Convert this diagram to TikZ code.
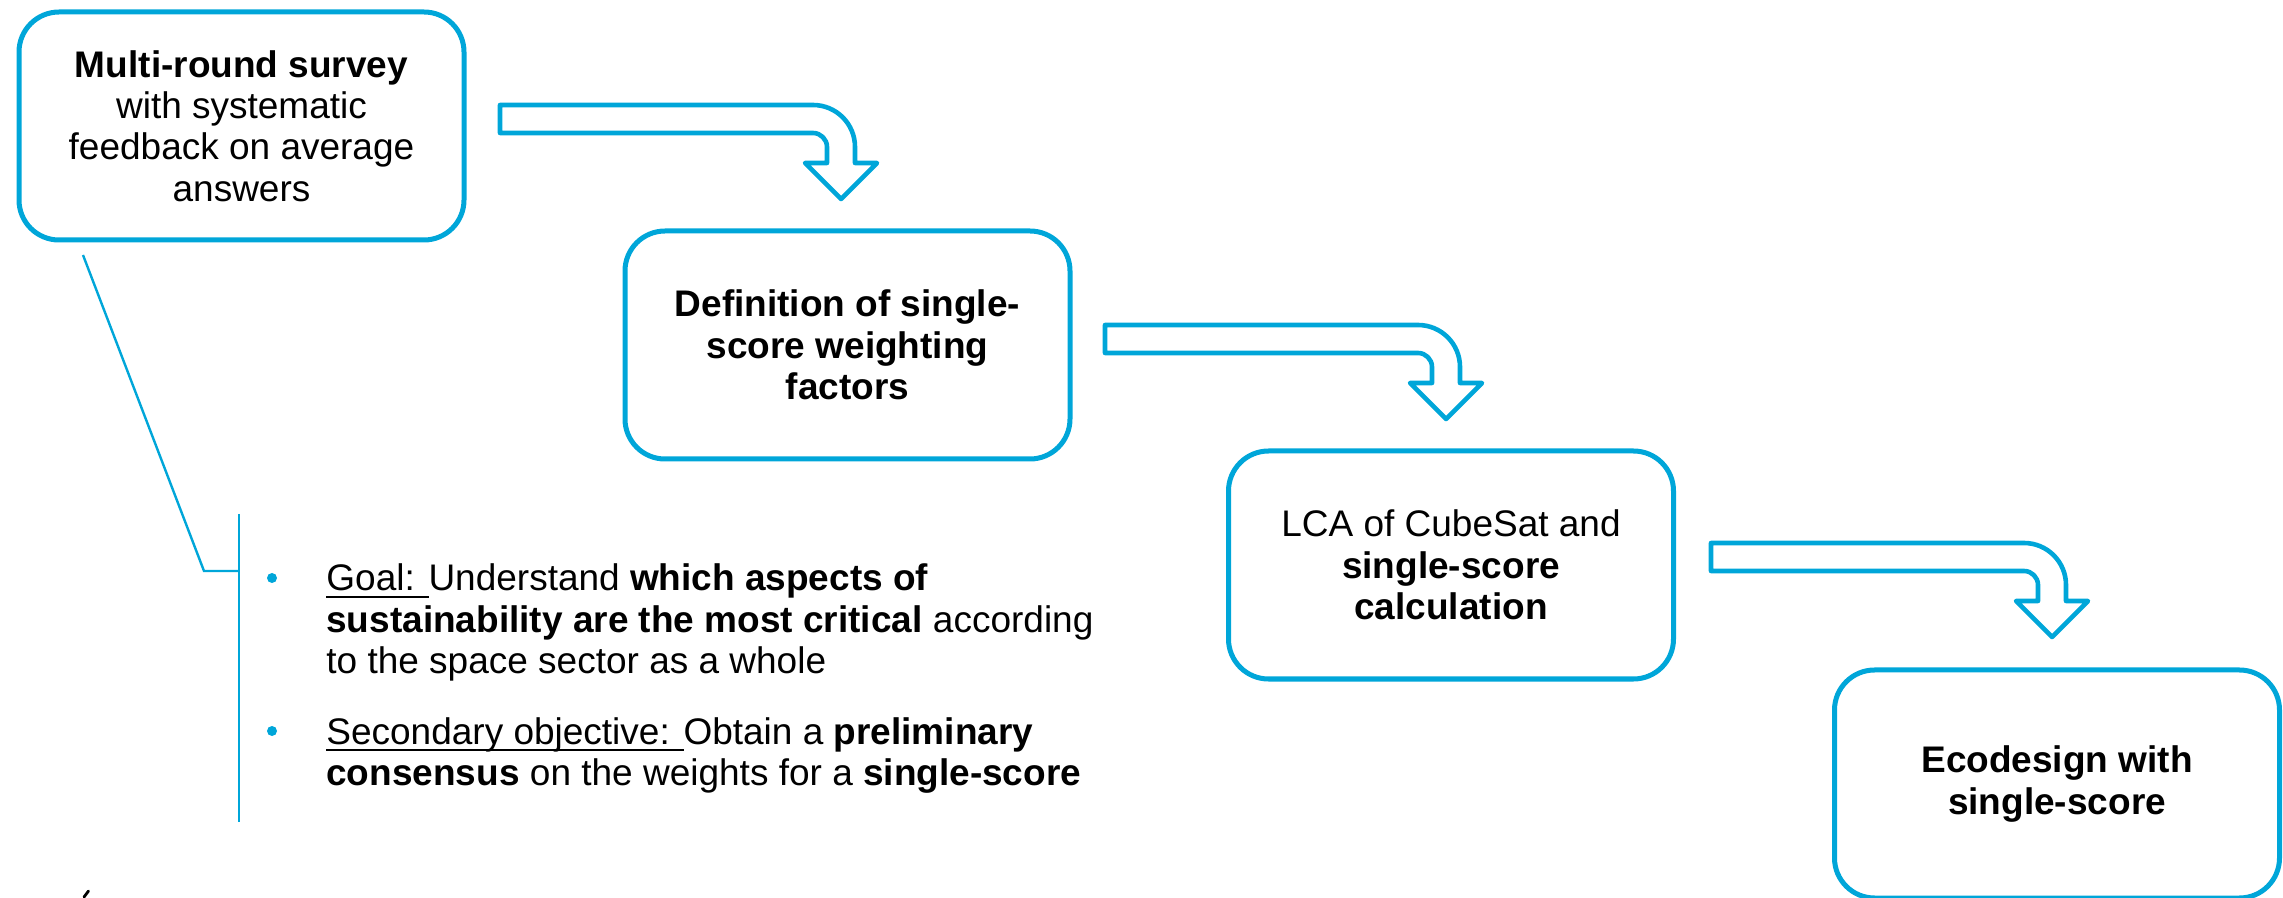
\documentclass[tikz,border=0pt]{standalone}
\usepackage{fontspec}
\setmainfont{Liberation Sans}
\definecolor{accent}{HTML}{00A6D9}
% underline with a fixed offset and thickness
\newcommand\myul[1]{\setbox0\hbox{#1}\rlap{\rule[-3.4pt]{\wd0}{1pt}}\box0}
% bent block arrow: #1 = left end of bar, #2 = top of bar, #3 = x of the tip
\newcommand\bentarrow[3]{%
  \draw[arrowline] (#1,#2) -- ({#3-28},#2)
    .. controls ({#3-28+23.2},#2) and ({#3+14},{#2+42-23.2}) .. ({#3+14},{#2+42})
    -- ({#3+14},{#2+58}) -- ({#3+36},{#2+58}) -- (#3,{#2+94})
    -- ({#3-36},{#2+58}) -- ({#3-14},{#2+58}) -- ({#3-14},{#2+42})
    .. controls ({#3-14},{#2+42-7.7}) and ({#3-28+7.7},{#2+28}) .. ({#3-28},{#2+28})
    -- (#1,{#2+28}) -- cycle;}
\begin{document}
\begin{tikzpicture}[x=0.5pt,y=-0.5pt,
  stage/.style={draw=accent, line width=2.5pt, rounded corners=20pt,
    minimum width=222.5pt, minimum height=114pt, inner sep=0pt,
    align=center, font=\fontsize{18.5}{20.7}\selectfont},
  arrowline/.style={draw=accent, line width=2.3pt, line join=round},
  callout/.style={draw=accent, line width=1.2pt},
  item/.style={anchor=base west, inner sep=0pt, font=\fontsize{18.5}{20.7}\selectfont},
  dot/.style={circle, fill=accent, minimum size=5pt, inner sep=0pt}]
\useasboundingbox (0,0) rectangle (2283,898);

% process stages
\node[stage] (survey) at (241.5,126) {\textbf{Multi-round survey}\\with systematic\\feedback on average\\answers};
\node[stage] (weights) at (847.5,345) {\textbf{Definition of single-}\\\textbf{score weighting}\\\textbf{factors}};
\node[stage] (lca) at (1451,565) {LCA of CubeSat and\\\textbf{single-score}\\\textbf{calculation}};
\node[stage] (ecodesign) at (2057,784) {\textbf{Ecodesign with}\\\textbf{single-score}};

% block arrows between stages
\bentarrow{500}{105}{841}
\bentarrow{1105}{325}{1446}
\bentarrow{1711}{543}{2052}

% callout bracket from the survey box to the goals
\coordinate (c0) at (83,255);
\coordinate (c1) at (204,571);
\coordinate (c2) at (239,571);
\coordinate (btop) at (239,514);
\coordinate (bbot) at (239,822);
\draw[callout] (c0) -- (c1) -- (c2);
\draw[callout] (btop) -- (bbot);

% goals
\node[dot] (b1) at (272,578) {};
\node[item] (l1) at (326,591) {\myul{Goal: }Understand \textbf{which aspects of}};
\node[item] (l2) at (326,632.5) {\textbf{sustainability are the most critical} according};
\node[item] (l3) at (326,674) {to the space sector as a whole};
\node[dot] (b2) at (272,731) {};
\node[item] (l4) at (326,744) {\myul{Secondary objective: }Obtain a \textbf{preliminary}};
\node[item] (l5) at (326,785.5) {\textbf{consensus} on the weights for a \textbf{single-score}};

% small stroke in the lower left corner
\draw[line width=1.4pt, line cap=round] (84,897) .. controls (86,894) .. (88.5,891);
\end{tikzpicture}
\end{document}
